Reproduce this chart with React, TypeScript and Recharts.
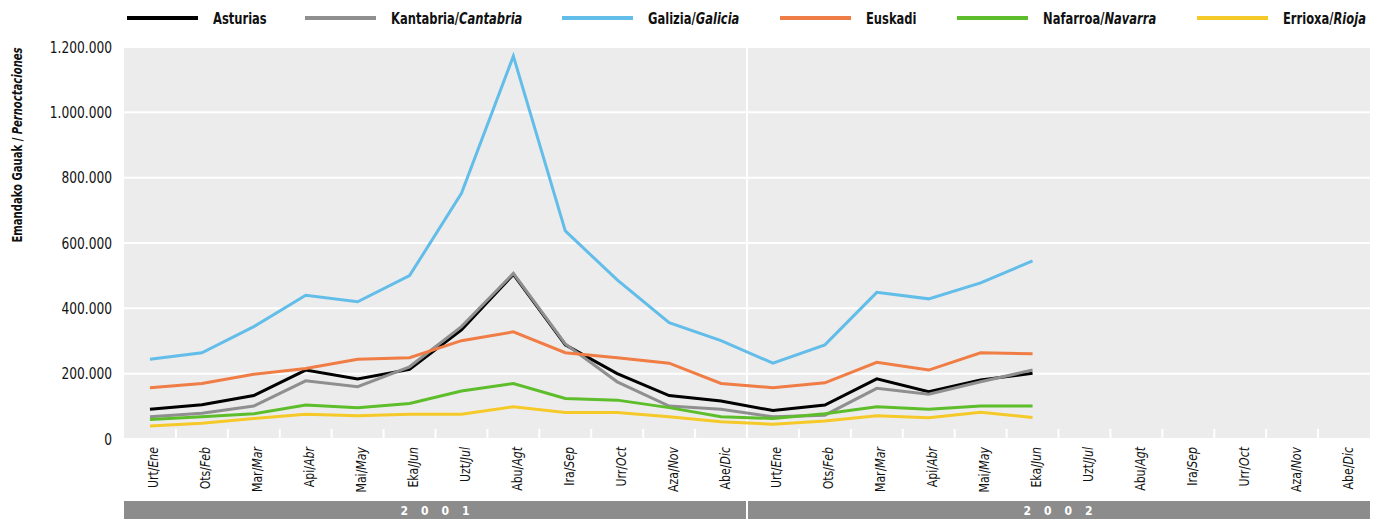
import React from 'react';
import { LineChart, Line, XAxis, YAxis, CartesianGrid, ReferenceLine } from 'recharts';

const monthsEu = ['Urt', 'Ots', 'Mar', 'Api', 'Mai', 'Eka', 'Uzt', 'Abu', 'Ira', 'Urr', 'Aza', 'Abe'];
const monthsEs = ['Ene', 'Feb', 'Mar', 'Abr', 'May', 'Jun', 'Jul', 'Agt', 'Sep', 'Oct', 'Nov', 'Dic'];
const years = ['2001', '2002'];

const asturias = [91000, 105000, 133000, 211000, 184000, 213000, 334000, 504000, 288000, 200000, 133000, 116000,
  87000, 104000, 184000, 145000, 181000, 201000];
const kantabria = [68000, 79000, 101000, 178000, 160000, 221000, 344000, 507000, 291000, 175000, 101000, 91000,
  68000, 73000, 155000, 137000, 175000, 211000];
const galizia = [244000, 264000, 344000, 440000, 420000, 500000, 752000, 1172000, 637000, 487000, 356000, 301000,
  232000, 288000, 449000, 429000, 478000, 545000];
const euskadi = [157000, 170000, 198000, 216000, 244000, 249000, 301000, 328000, 264000, 249000, 232000, 170000,
  157000, 172000, 235000, 211000, 264000, 261000];
const nafarroa = [60000, 68000, 77000, 104000, 96000, 109000, 147000, 170000, 124000, 119000, 96000, 68000,
  63000, 77000, 99000, 91000, 101000, 101000];
const errioxa = [40000, 48000, 63000, 76000, 71000, 76000, 76000, 99000, 81000, 81000, 68000, 53000,
  45000, 55000, 71000, 65000, 82000, 66000];

const yTicks = [0, 200000, 400000, 600000, 800000, 1000000, 1200000];

const series = [
  { key: 'asturias', eu: 'Asturias', es: '', color: '#000000', values: asturias, left: 127 },
  { key: 'kantabria', eu: 'Kantabria/', es: 'Cantabria', color: '#8f8f8f', values: kantabria, left: 305 },
  { key: 'galizia', eu: 'Galizia/', es: 'Galicia', color: '#63bde9', values: galizia, left: 562 },
  { key: 'euskadi', eu: 'Euskadi', es: '', color: '#ef7d45', values: euskadi, left: 780 },
  { key: 'nafarroa', eu: 'Nafarroa/', es: 'Navarra', color: '#5dbd2b', values: nafarroa, left: 957 },
  { key: 'errioxa', eu: 'Errioxa/', es: 'Rioja', color: '#f5c928', values: errioxa, left: 1197 },
];

const FONT = '"DejaVu Sans Condensed", "Liberation Sans", Arial, sans-serif';
const W = 1385;
const H = 520;
const PLOT_LEFT = 124;
const PLOT_RIGHT = 15;
const PLOT_W = W - PLOT_LEFT - PLOT_RIGHT;
const N = monthsEu.length * years.length;

// one row per month slot; pos is the slot index centred in its band
const data: any[] = [];
years.forEach((yr, yi) => {
  monthsEu.forEach((_, mi) => {
    const i = yi * 12 + mi;
    const row: any = { pos: i + 0.5, period: `${yr}-${mi}` };
    series.forEach((s) => {
      row[s.key] = i < s.values.length ? s.values[i] : null;
    });
    data.push(row);
  });
});

const monthTicks = data.map((d) => d.pos);
const fmt = (v: number) => String(v).replace(/\B(?=(\d{3})+(?!\d))/g, '.');

function MonthTick(props: any) {
  const { x, y, payload } = props;
  const mi = Math.floor(payload.value) % 12;
  return (
    <text transform={`translate(${x + 8.5},${y + 8}) rotate(-90) scale(0.87,1)`} textAnchor="end" fontFamily={FONT} fontSize={14} fill="#111">
      {monthsEu[mi]}/<tspan fontStyle="italic">{monthsEs[mi]}</tspan>
    </text>
  );
}

function YearTick(props: any) {
  const { x, y, payload } = props;
  const first = payload.value < 12;
  const half = PLOT_W / 4;
  return (
    <g>
      <rect x={x - half + (first ? 0 : 1)} y={y + 1} width={half * 2 - 1} height={18} fill="#8c8c8c" />
      <text x={x + 6} y={y + 14.5} textAnchor="middle" fontFamily={FONT} fontWeight="bold" fontSize={12} fill="#fff" letterSpacing={13}>
        {years[first ? 0 : 1]}
      </text>
    </g>
  );
}

function ValueTick(props: any) {
  const { x, y, payload } = props;
  return (
    <text transform={`translate(${x},${y}) scale(0.85,1)`} textAnchor="end" dy="0.36em" fontFamily={FONT} fontSize={16} fill="#111">
      {fmt(payload.value)}
    </text>
  );
}

const boundaries = Array.from({ length: N - 1 }, (_, k) => k + 1).filter((k) => k !== 12);

export default function App() {
  return (
    <div style={{ position: 'absolute', left: 0, top: 0, width: W, height: H, background: '#fff', fontFamily: FONT }}>
      {series.map((s) => (
        <div key={s.key} style={{ position: 'absolute', left: s.left, top: 4, height: 28, display: 'flex', alignItems: 'center', whiteSpace: 'nowrap' }}>
          <div style={{ width: 71, height: 4, background: s.color, marginRight: 15 }} />
          <span style={{ display: 'inline-block', fontSize: 16, fontWeight: 'bold', color: '#111', transform: 'scaleX(0.8)', transformOrigin: 'left center' }}>
            {s.eu}
            {s.es && <i>{s.es}</i>}
          </span>
        </div>
      ))}
      <LineChart width={W} height={H} data={data} margin={{ top: 47, right: PLOT_RIGHT, bottom: 0, left: 20 }}>
        <CartesianGrid vertical={false} stroke="#ffffff" strokeWidth={2} fill="#ececec" />
        <XAxis
          xAxisId="month"
          dataKey="pos"
          type="number"
          domain={[0, N]}
          allowDataOverflow
          ticks={monthTicks}
          interval={0}
          height={61}
          axisLine={false}
          tickLine={false}
          tickSize={0}
          tickMargin={0}
          tick={<MonthTick />}
        />
        <XAxis
          xAxisId="year"
          dataKey="pos"
          type="number"
          domain={[0, N]}
          allowDataOverflow
          ticks={[6, 18]}
          interval={0}
          height={20}
          axisLine={false}
          tickLine={false}
          tickSize={0}
          tickMargin={0}
          tick={<YearTick />}
        />
        <YAxis
          domain={[0, 1200000]}
          ticks={yTicks}
          width={104}
          axisLine={false}
          tickLine={false}
          tickSize={0}
          tickMargin={12}
          tick={<ValueTick />}
          label={{
            content: () => (
              <text transform="translate(22,145) rotate(-90) scale(0.8,1)" textAnchor="middle" fontFamily={FONT} fontWeight="bold" fontSize={14} fill="#111">
                Emandako Gauak / <tspan fontStyle="italic">Pernoctaciones</tspan>
              </text>
            ),
          }}
        />
        {boundaries.map((k) => (
          <ReferenceLine
            key={k}
            xAxisId="month"
            segment={[{ x: k, y: 0 }, { x: k, y: 31000 }]}
            stroke="#ffffff"
            strokeWidth={2}
          />
        ))}
        <ReferenceLine xAxisId="month" x={12} stroke="#ffffff" strokeWidth={2} />
        {series.map((s) => (
          <Line
            key={s.key}
            xAxisId="month"
            type="linear"
            dataKey={s.key}
            stroke={s.color}
            strokeWidth={3}
            dot={false}
            activeDot={false}
            isAnimationActive={false}
          />
        ))}
      </LineChart>
    </div>
  );
}
